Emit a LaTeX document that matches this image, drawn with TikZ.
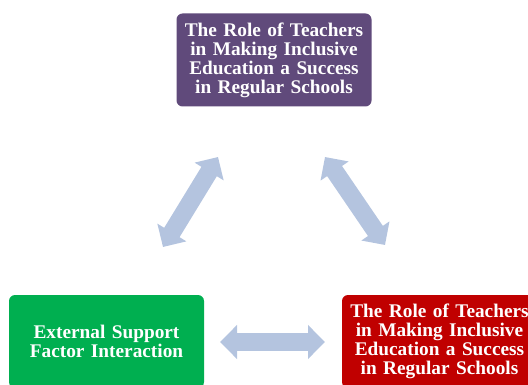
\documentclass[tikz,border=0pt]{standalone}
\usepackage{fontspec}
\setmainfont{Liberation Serif}
\usetikzlibrary{arrows.meta}
\definecolor{boxpurple}{HTML}{604A7B}
\definecolor{boxgreen}{HTML}{00AF50}
\definecolor{boxred}{HTML}{C00000}
\definecolor{arrowblue}{HTML}{B4C4DF}
\tikzset{
  box/.style={rounded corners=6pt, minimum width=195pt, minimum height=93pt,
    text width=194pt, align=center, text=white, inner sep=0pt,
    font=\fontsize{19.3}{18.9}\selectfont\bfseries},
  link/.style={arrowblue, line width=18pt,
    {Triangle[width=33pt,length=17pt]}-{Triangle[width=33pt,length=17pt]}},
}
\begin{document}
\begin{tikzpicture}[x=1pt,y=-1pt]
\useasboundingbox (0,0) rectangle (528,385);
\clip (0,0) rectangle (528,385);
\node[box, fill=boxpurple] (top) at (274,60) {The Role of Teachers\\in Making Inclusive\\Education a Success\\in Regular Schools};
\node[box, fill=boxgreen] (left) at (106.5,341.5) {External Support\\Factor Interaction};
\node[box, fill=boxred] (right) at (439.5,341.5) {The Role of Teachers\\in Making Inclusive\\Education a Success\\in Regular Schools};
\coordinate (a1) at (163,247);
\coordinate (b1) at (218,157);
\coordinate (a2) at (325,157);
\coordinate (b2) at (385,245);
\coordinate (a3) at (220,342);
\coordinate (b3) at (325,342);
\draw[link] (a1) -- (b1);
\draw[link] (a2) -- (b2);
\draw[link] (a3) -- (b3);
\end{tikzpicture}
\end{document}
